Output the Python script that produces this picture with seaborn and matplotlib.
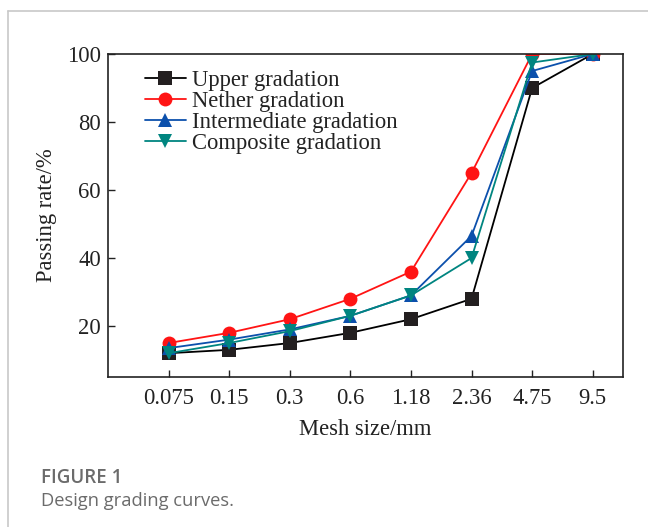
import pandas as pd
import seaborn as sns
import matplotlib.pyplot as plt
from matplotlib.lines import Line2D

# data
mesh_sizes = ['0.075', '0.15', '0.3', '0.6', '1.18', '2.36', '4.75', '9.5']
upper = [12, 13, 15, 18, 22, 28, 90, 100]
nether = [15, 18, 22, 28, 36, 65, 100, 100]
intermediate = [13.5, 16, 19, 23, 29, 46.5, 95, 100]
composite = [12, 15, 18.5, 23, 29, 40, 97.5, 100]

series_names = ['Upper gradation', 'Nether gradation',
                'Intermediate gradation', 'Composite gradation']
series_values = [upper, nether, intermediate, composite]
colors = ['#000000', '#ff1414', '#0c50ac', '#008580']
marker_fc = ['#231f20', '#ff1414', '#0c50ac', '#008580']
markers = ['s', 'o', '^', 'v']

fontsz = 16.3
serif = ['Liberation Serif', 'DejaVu Serif']

sns.set_theme(style="ticks")
plt.rcParams['font.family'] = serif

fig = plt.figure(figsize=(6.48, 5.27), dpi=100)
ax = fig.add_axes([0.1667, 0.2846, 0.9614 - 0.1667, 0.8975 - 0.2846])

pos = list(range(len(mesh_sizes)))
for name, vals, c, fc, m in zip(series_names, series_values, colors, marker_fc, markers):
    df = pd.DataFrame({'pos': pos, 'rate': vals})
    sns.lineplot(data=df, x='pos', y='rate', ax=ax, color=c, marker=m,
                 markersize=10.5 if m != 'o' else 10, markerfacecolor=fc,
                 markeredgecolor=fc, markeredgewidth=0, linewidth=1.3,
                 label=name)

ax.set_xlim(-1, 7.5)
ax.set_ylim(5, 100)
ax.set_xticks(pos)
ax.set_xticklabels(mesh_sizes)
ax.set_yticks([20, 40, 60, 80, 100])
ax.tick_params(direction='in', length=5, width=1, labelsize=fontsz, pad=5,
               colors='#222222', labelcolor='#222222')
ax.tick_params(axis='x', pad=8)
for s in ax.spines.values():
    s.set_linewidth(1.2)
    s.set_color('#222222')

ax.set_xlabel('Mesh size/mm', fontsize=fontsz, color='#222222', labelpad=7)
ax.set_ylabel('Passing rate/%', fontsize=fontsz, color='#222222', labelpad=7)

leg = ax.legend(loc='upper left', bbox_to_anchor=(0.072, 0.951), frameon=False,
                fontsize=fontsz, handlelength=1.8, handletextpad=0.27,
                labelspacing=0.0, borderaxespad=0, borderpad=0)
for t in leg.get_texts():
    t.set_color('#222222')

# card border and caption
fig.add_artist(Line2D([8 / 648, 1], [1 - 11 / 527, 1 - 11 / 527],
                      transform=fig.transFigure, color='#c8c8c8', linewidth=1.2))
fig.add_artist(Line2D([8 / 648, 8 / 648], [0, 1 - 11 / 527],
                      transform=fig.transFigure, color='#c8c8c8', linewidth=1.2))
fig.text(41 / 648, 1 - 478 / 527, 'FIGURE 1', fontsize=13.5, fontweight='semibold',
         color='#6b6b6b', family=['Open Sans', 'DejaVu Sans'], va='center')
fig.text(41 / 648, 1 - 501 / 527, 'Design grading curves.', fontsize=13.2,
         color='#6b6b6b', family=['Open Sans', 'DejaVu Sans'], va='center')

fig.savefig('out.png', dpi=100)
